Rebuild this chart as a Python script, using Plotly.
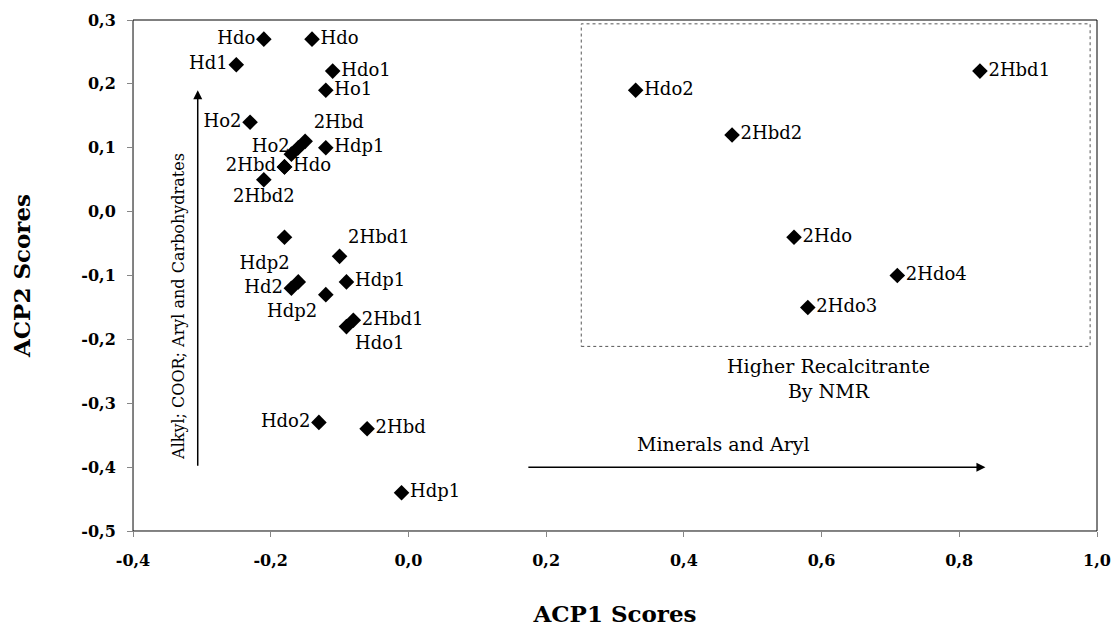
import plotly.graph_objects as go

# ACP scores (PCA)
acp1 = [-0.21, -0.14, -0.25, -0.11, -0.12, -0.23, -0.17, -0.16, -0.15, -0.12, -0.18, -0.18, -0.21,
        -0.18, -0.10, -0.16, -0.17, -0.09, -0.12, -0.08, -0.09, -0.13, -0.06, -0.01,
        0.33, 0.47, 0.83, 0.56, 0.71, 0.58]
acp2 = [0.27, 0.27, 0.23, 0.22, 0.19, 0.14, 0.09, 0.10, 0.11, 0.10, 0.07, 0.07, 0.05,
        -0.04, -0.07, -0.11, -0.12, -0.11, -0.13, -0.17, -0.18, -0.33, -0.34, -0.44,
        0.19, 0.12, 0.22, -0.04, -0.10, -0.15]
labels = ["Hdo", "Hdo", "Hd1", "Hdo1", "Ho1", "Ho2", "", "Ho2", "2Hbd", "Hdp1", "2Hbd", "Hdo", "2Hbd2",
          "", "2Hbd1", "Hdp2", "Hd2", "Hdp1", "Hdp2", "2Hbd1", "Hdo1", "Hdo2", "2Hbd", "Hdp1",
          "Hdo2", "2Hbd2", "2Hbd1", "2Hdo", "2Hdo4", "2Hdo3"]
positions = ["middle left", "middle right", "middle left", "middle right", "middle right", "middle left",
             "middle right", "middle left", "top right", "middle right", "middle left", "middle right",
             "bottom center",
             "middle right", "top right", "top left", "middle left", "middle right", "bottom left",
             "middle right", "bottom right", "middle left", "middle right", "middle right",
             "middle right", "middle right", "middle right", "middle right", "middle right", "middle right"]

# tick labels (decimal comma, plain hyphen)
xtick_vals = [-0.4, -0.2, 0.0, 0.2, 0.4, 0.6, 0.8, 1.0]
xtick_text = ["-0,4", "-0,2", "0,0", "0,2", "0,4", "0,6", "0,8", "1,0"]
ytick_vals = [-0.5, -0.4, -0.3, -0.2, -0.1, 0.0, 0.1, 0.2, 0.3]
ytick_text = ["-0,5", "-0,4", "-0,3", "-0,2", "-0,1", "0,0", "0,1", "0,2", "0,3"]

serif = "DejaVu Serif, Times New Roman, serif"

fig = go.Figure()
fig.add_trace(go.Scatter(
    x=acp1, y=acp2, mode="markers+text", text=labels, textposition=positions,
    marker=dict(symbol="diamond", size=12, color="black"),
    textfont=dict(family=serif, size=18, color="black"),
    cliponaxis=False, showlegend=False))

# plot area border and dotted box
fig.add_shape(type="rect", xref="paper", yref="paper", x0=0, y0=0, x1=1, y1=1,
              line=dict(color="black", width=1), layer="below")
fig.add_shape(type="rect", x0=0.251, x1=0.99, y0=-0.211, y1=0.294,
              line=dict(color="#555555", width=1, dash="dot"))

# arrows
fig.add_annotation(x=0.838, y=-0.40, ax=0.172, ay=-0.40, xref="x", yref="y", axref="x", ayref="y",
                   text="", showarrow=True, arrowhead=2, arrowsize=1.2, arrowwidth=1.5, arrowcolor="black")
fig.add_annotation(x=-0.306, y=0.19, ax=-0.306, ay=-0.40, xref="x", yref="y", axref="x", ayref="y",
                   text="", showarrow=True, arrowhead=2, arrowsize=1.2, arrowwidth=1.5, arrowcolor="black")
fig.add_annotation(x=0.458, y=-0.364, text="Minerals and Aryl", showarrow=False,
                   font=dict(family=serif, size=19, color="black"))
fig.add_annotation(x=-0.335, y=-0.148, text="Alkyl; COOR; Aryl and Carbohydrates", showarrow=False,
                   textangle=-90, font=dict(family=serif, size=16, color="black"))
fig.add_annotation(x=0.61, y=-0.262, text="Higher Recalcitrante<br>By NMR", showarrow=False,
                   font=dict(family=serif, size=19, color="black"))

axis_common = dict(showgrid=False, zeroline=False, showline=True, linecolor="#868686", linewidth=1,
                   ticks="outside", ticklen=5, tickcolor="#868686", automargin=False,
                   ticklabeloverflow="allow",
                   tickfont=dict(family=serif, size=16, color="black", weight="bold"))
fig.update_xaxes(range=[-0.4, 1.0], tickvals=xtick_vals, ticktext=xtick_text, ticklabelstandoff=10,
                 **axis_common,
                 title=dict(text="<b>ACP1 Scores</b>", font=dict(family=serif, size=23, color="black"),
                            standoff=36))
fig.update_yaxes(range=[-0.5, 0.3], tickvals=ytick_vals, ticktext=ytick_text, ticklabelstandoff=8,
                 **axis_common,
                 title=dict(text="<b>ACP2 Scores</b>", font=dict(family=serif, size=23, color="black"),
                            standoff=44))

fig.update_layout(width=1117, height=629, margin=dict(l=133, r=20, t=20, b=98),
                  plot_bgcolor="white", paper_bgcolor="white",
                  font=dict(family=serif, color="black"))

fig.write_html("out.html", config={"displayModeBar": False},
               post_script="document.body.style.margin='0';")
